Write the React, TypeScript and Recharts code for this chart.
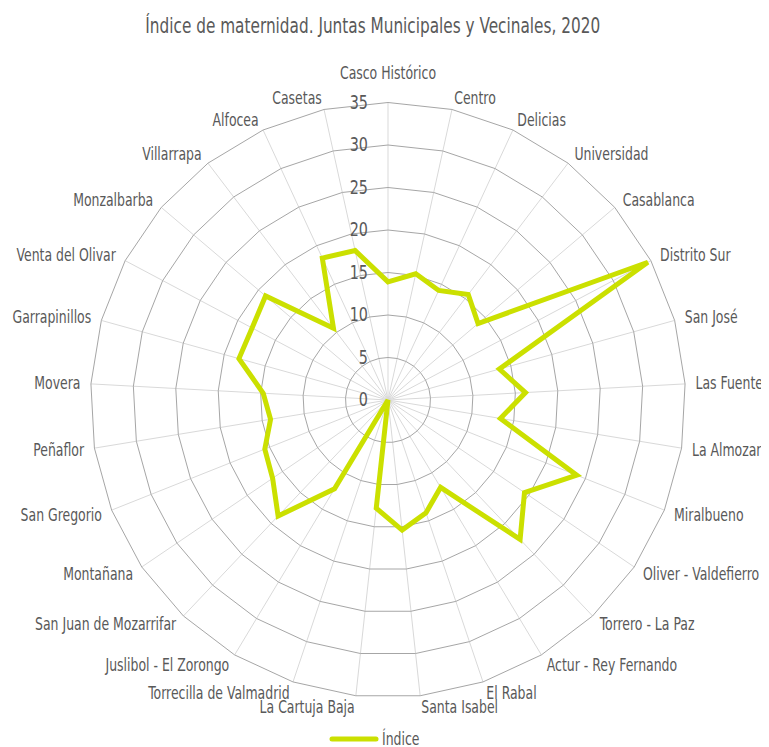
import { RadarChart, Radar, PolarGrid, PolarAngleAxis, PolarRadiusAxis } from 'recharts';

const juntas = [
    'Casco Histórico', 'Centro', 'Delicias', 'Universidad', 'Casablanca', 'Distrito Sur',
    'San José', 'Las Fuentes', 'La Almozara', 'Miralbueno', 'Oliver - Valdefierro',
    'Torrero - La Paz', 'Actur - Rey Fernando', 'El Rabal', 'Santa Isabel', 'La Cartuja Baja',
    'Torrecilla de Valmadrid', 'Juslibol - El Zorongo', 'San Juan de Mozarrifar', 'Montañana',
    'San Gregorio', 'Peñaflor', 'Movera', 'Garrapinillos', 'Venta del Olivar', 'Monzalbarba',
    'Villarrapa', 'Alfocea', 'Casetas',
];

const indice = [
    13.9, 15.2, 14.2, 15.6, 13.9, 34.6,
    13.6, 16.2, 13.4, 23.9, 19.4,
    22.6, 12.0, 14.0, 15.4, 12.8,
    0, 12.2, 18.8, 16.4,
    15.6, 14.0, 14.7, 18.2, 18.1, 18.9,
    10.6, 18.4, 18.0,
];

const radiusTicks = [0, 5, 10, 15, 20, 25, 30, 35];

const data = juntas.map((name, i) => ({ name, value: indice[i] }));

const FONT = "'DejaVu Sans Condensed', 'DejaVu Sans', sans-serif";
const TEXT = '#595959';
const LIME = '#cbe000';
const CX = 380;
const CY = 392;
// the original uses a very narrow font, so squeeze ours horizontally
const SQUEEZE = 0.77;

function AngleTick(props: any) {
    const { payload } = props;
    const a = (payload.coordinate * Math.PI) / 180;
    const h = Math.cos(a);
    const v = Math.sin(a);
    let anchor: 'start' | 'end' | 'middle' = 'middle';
    if (h > 0.05) anchor = 'start';
    else if (h < -0.05) anchor = 'end';
    // roughly where excel puts its labels
    const rx = anchor === 'middle' ? 0 : 308;
    const ry = anchor === 'middle' ? 327 : 309;
    const x = CX + rx * h;
    const y = CY - ry * v;
    return (
        <text
            transform={`translate(${x} ${y}) scale(${SQUEEZE} 1)`}
            textAnchor={anchor}
            dominantBaseline="central"
            fill={TEXT}
            fontSize={18}
            fontFamily={FONT}
        >
            {payload.value}
        </text>
    );
}

function RadiusTick(props: any) {
    const { x, y, payload } = props;
    return (
        <text
            transform={`translate(${x - 20} ${y}) scale(0.84 1)`}
            textAnchor="end"
            dominantBaseline="central"
            fill={TEXT}
            fontSize={19}
            fontFamily={FONT}
        >
            {payload.value}
        </text>
    );
}

export default function App() {
    return (
        <div style={{ position: 'relative', width: 761, height: 739, fontFamily: FONT }}>
            <div style={{ position: 'absolute', top: 6, left: 0, width: 729, textAlign: 'center', fontSize: 21, color: TEXT }}>
                <span style={{ display: 'inline-block', transform: 'scaleX(0.81)', whiteSpace: 'nowrap' }}>
                    Índice de maternidad. Juntas Municipales y Vecinales, 2020
                </span>
            </div>
            <RadarChart
                width={761}
                height={739}
                data={data}
                cx={CX}
                cy={CY}
                outerRadius={297.5}
                margin={{ top: 0, right: 0, bottom: 0, left: 0 }}
            >
                <PolarGrid gridType="polygon" polarRadius={[]} stroke="#d9d9d9" strokeWidth={1} />
                <PolarGrid gridType="polygon" radialLines={false} stroke="#a6a6a6" strokeWidth={1} />
                <PolarAngleAxis dataKey="name" tick={AngleTick} tickLine={false} axisLine={false} />
                <PolarRadiusAxis
                    angle={90}
                    domain={[0, 35]}
                    ticks={radiusTicks}
                    tick={RadiusTick}
                    axisLine={false}
                    tickLine={false}
                />
                <Radar
                    name="Índice"
                    dataKey="value"
                    stroke={LIME}
                    strokeWidth={5}
                    fill="none"
                    fillOpacity={0}
                    dot={false}
                    isAnimationActive={false}
                />
            </RadarChart>
            {/* legend */}
            <svg style={{ position: 'absolute', top: 715, left: 318, display: 'block' }} width={100} height={24}>
                <line x1={6} y1={16} x2={50} y2={16} stroke={LIME} strokeWidth={5} strokeLinecap="round" />
                <text
                    transform="translate(56 16) scale(0.77 1)"
                    dominantBaseline="central"
                    fill={TEXT}
                    fontSize={18}
                    fontFamily={FONT}
                >
                    Índice
                </text>
            </svg>
        </div>
    );
}
